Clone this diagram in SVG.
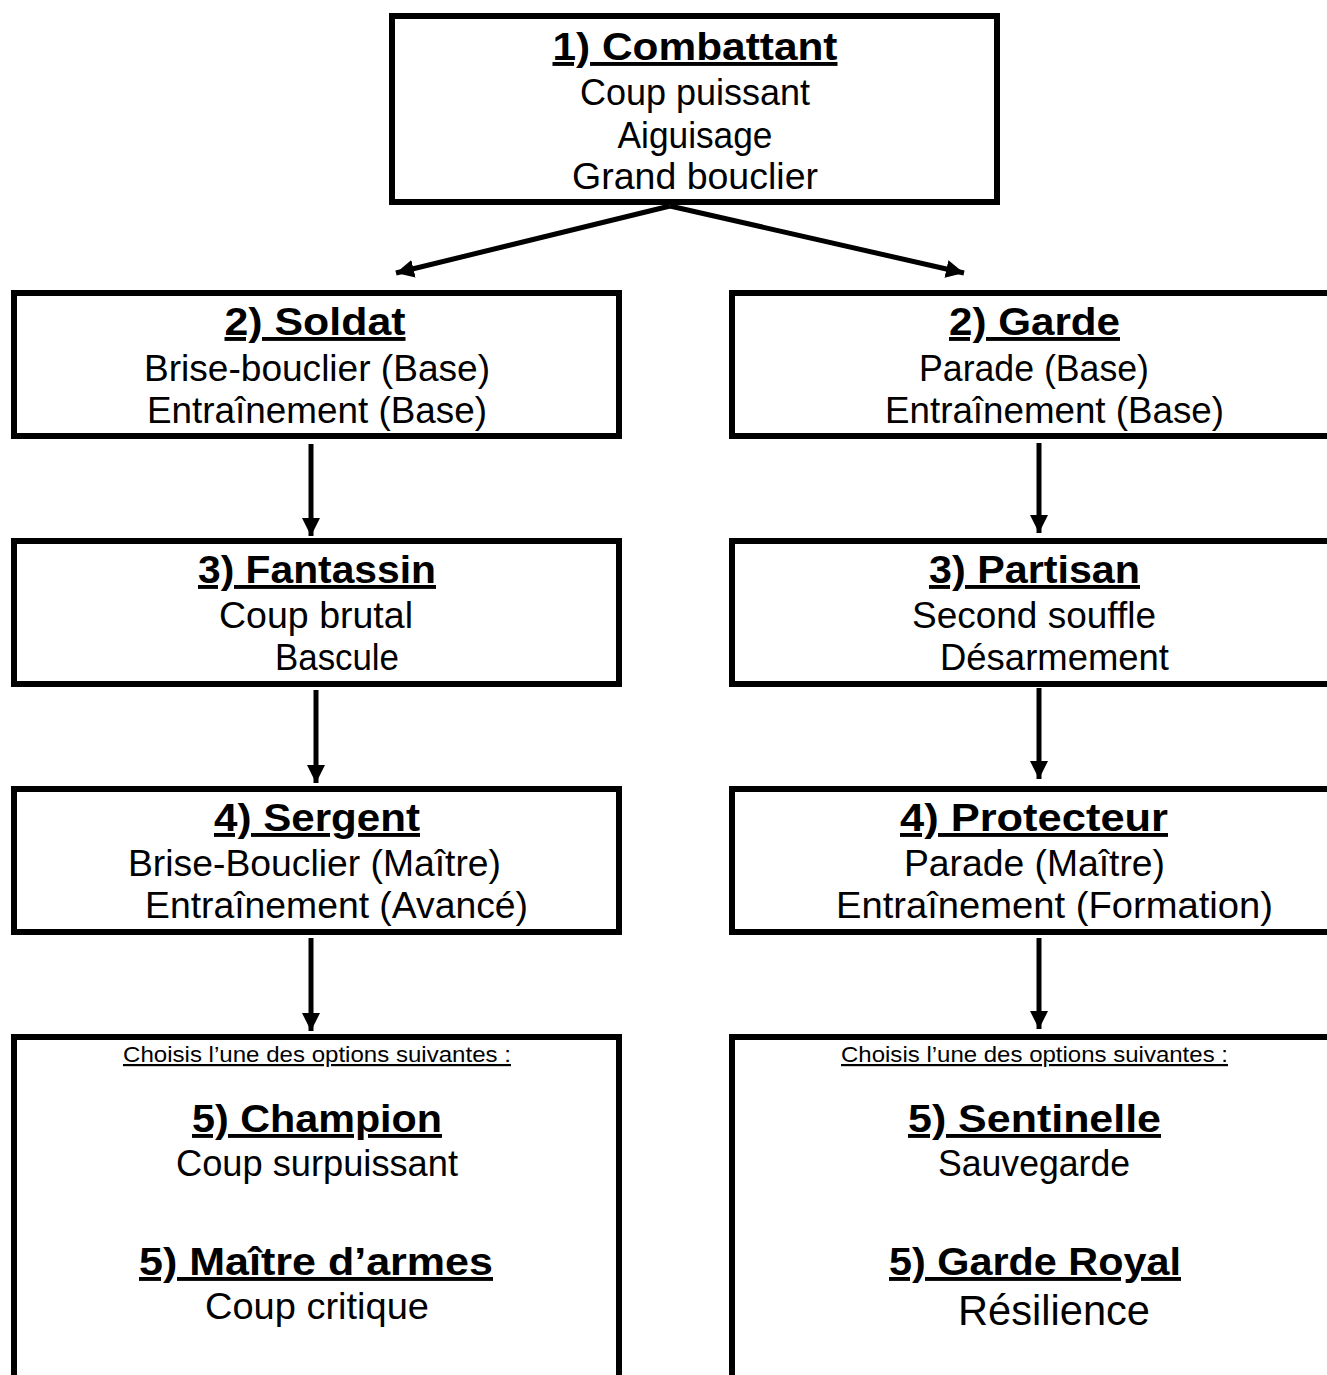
<svg xmlns="http://www.w3.org/2000/svg" width="1327" height="1375" viewBox="0 0 1327 1375">
<style>
.box{fill:#fff;stroke:#000;stroke-width:6}
.t{font-family:"Liberation Sans",Arial,sans-serif;fill:#000;text-anchor:middle}
.h{font-size:39px;font-weight:bold;text-decoration:underline;text-decoration-thickness:4px}
.r{font-size:37px}
.s{font-size:22px;text-decoration:underline}
.c{stroke:#000;stroke-width:5;fill:none}
</style>
<defs>
<marker id="ah" markerUnits="userSpaceOnUse" markerWidth="20" markerHeight="20" refX="18" refY="10" orient="auto">
<path d="M0,1 L18,10 L0,19 z" fill="#000"/>
</marker>
</defs>
<rect width="1327" height="1375" fill="#fff"/>
<g id="connectors">
<line class="c" x1="670" y1="206" x2="396" y2="273" marker-end="url(#ah)"/>
<line class="c" x1="670" y1="206" x2="964" y2="273" marker-end="url(#ah)"/>
<line class="c" x1="311" y1="444" x2="311" y2="536" marker-end="url(#ah)"/>
<line class="c" x1="316" y1="690" x2="316" y2="783" marker-end="url(#ah)"/>
<line class="c" x1="311" y1="938" x2="311" y2="1031" marker-end="url(#ah)"/>
<line class="c" x1="1039" y1="443" x2="1039" y2="533" marker-end="url(#ah)"/>
<line class="c" x1="1039" y1="688" x2="1039" y2="779" marker-end="url(#ah)"/>
<line class="c" x1="1039" y1="938" x2="1039" y2="1029" marker-end="url(#ah)"/>
</g>
<g id="combattant">
<rect class="box" x="392" y="16" width="605" height="186"/>
<text class="t h" x="695" y="60" textLength="285" lengthAdjust="spacingAndGlyphs">1) Combattant</text>
<text class="t r" x="695" y="105" textLength="230" lengthAdjust="spacingAndGlyphs">Coup puissant</text>
<text class="t r" x="695" y="148" textLength="155" lengthAdjust="spacingAndGlyphs">Aiguisage</text>
<text class="t r" x="695" y="189" textLength="246" lengthAdjust="spacingAndGlyphs">Grand bouclier</text>
</g>
<g id="soldat">
<rect class="box" x="14" y="293" width="605" height="143"/>
<text class="t h" x="315" y="335" textLength="181" lengthAdjust="spacingAndGlyphs">2) Soldat</text>
<text class="t r" x="317" y="381" textLength="346" lengthAdjust="spacingAndGlyphs">Brise-bouclier (Base)</text>
<text class="t r" x="317" y="423" textLength="340" lengthAdjust="spacingAndGlyphs">Entraînement (Base)</text>
</g>
<g id="garde">
<rect class="box" x="732" y="293" width="605" height="143"/>
<text class="t h" x="1034.5" y="335" textLength="171" lengthAdjust="spacingAndGlyphs">2) Garde</text>
<text class="t r" x="1034" y="381" textLength="230" lengthAdjust="spacingAndGlyphs">Parade (Base)</text>
<text class="t r" x="1054.5" y="423" textLength="339" lengthAdjust="spacingAndGlyphs">Entraînement (Base)</text>
</g>
<g id="fantassin">
<rect class="box" x="14" y="541" width="605" height="143"/>
<text class="t h" x="317" y="583" textLength="238" lengthAdjust="spacingAndGlyphs">3) Fantassin</text>
<text class="t r" x="316" y="628" textLength="194" lengthAdjust="spacingAndGlyphs">Coup brutal</text>
<text class="t r" x="337" y="670" textLength="124" lengthAdjust="spacingAndGlyphs">Bascule</text>
</g>
<g id="partisan">
<rect class="box" x="732" y="541" width="605" height="143"/>
<text class="t h" x="1034.5" y="583" textLength="211" lengthAdjust="spacingAndGlyphs">3) Partisan</text>
<text class="t r" x="1034" y="628" textLength="244" lengthAdjust="spacingAndGlyphs">Second souffle</text>
<text class="t r" x="1054.5" y="670" textLength="229" lengthAdjust="spacingAndGlyphs">Désarmement</text>
</g>
<g id="sergent">
<rect class="box" x="14" y="789" width="605" height="143"/>
<text class="t h" x="317" y="831" textLength="206" lengthAdjust="spacingAndGlyphs">4) Sergent</text>
<text class="t r" x="314.5" y="876" textLength="373" lengthAdjust="spacingAndGlyphs">Brise-Bouclier (Maître)</text>
<text class="t r" x="336.5" y="918" textLength="383" lengthAdjust="spacingAndGlyphs">Entraînement (Avancé)</text>
</g>
<g id="protecteur">
<rect class="box" x="732" y="789" width="605" height="143"/>
<text class="t h" x="1034" y="831" textLength="268" lengthAdjust="spacingAndGlyphs">4) Protecteur</text>
<text class="t r" x="1034.5" y="876" textLength="261" lengthAdjust="spacingAndGlyphs">Parade (Maître)</text>
<text class="t r" x="1054.5" y="918" textLength="437" lengthAdjust="spacingAndGlyphs">Entraînement (Formation)</text>
</g>
<g id="options-gauche">
<rect class="box" x="14" y="1037" width="605" height="400"/>
<text class="t s" x="317" y="1062" textLength="388" lengthAdjust="spacingAndGlyphs">Choisis l’une des options suivantes :</text>
<text class="t h" x="317" y="1132" textLength="250" lengthAdjust="spacingAndGlyphs">5) Champion</text>
<text class="t r" x="317" y="1176" textLength="282" lengthAdjust="spacingAndGlyphs">Coup surpuissant</text>
<text class="t h" x="316" y="1275" textLength="354" lengthAdjust="spacingAndGlyphs">5) Maître d’armes</text>
<text class="t r" x="317" y="1319" textLength="224" lengthAdjust="spacingAndGlyphs">Coup critique</text>
</g>
<g id="options-droite">
<rect class="box" x="732" y="1037" width="605" height="400"/>
<text class="t s" x="1034.5" y="1062" textLength="387" lengthAdjust="spacingAndGlyphs">Choisis l’une des options suivantes :</text>
<text class="t h" x="1034.5" y="1132" textLength="253" lengthAdjust="spacingAndGlyphs">5) Sentinelle</text>
<text class="t r" x="1034" y="1176" textLength="192" lengthAdjust="spacingAndGlyphs">Sauvegarde</text>
<text class="t h" x="1035" y="1275" textLength="292" lengthAdjust="spacingAndGlyphs">5) Garde Royal</text>
<text class="t r" x="1054" y="1325" style="font-size:43px" textLength="192" lengthAdjust="spacingAndGlyphs">Résilience</text>
</g>
</svg>
